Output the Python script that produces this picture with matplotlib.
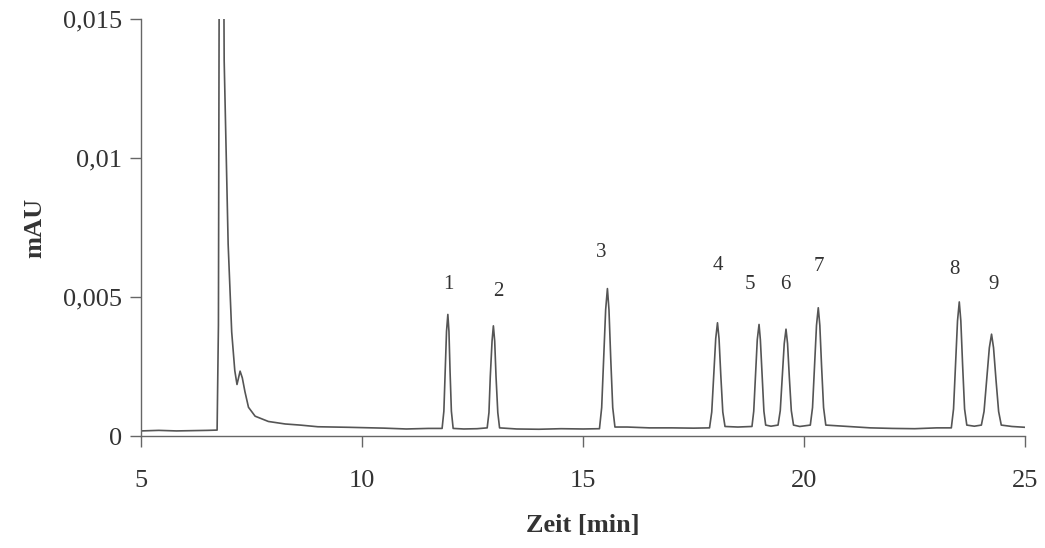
# Chromatogram (HPLC trace) redrawn from a scanned figure.
import matplotlib
matplotlib.use('Agg')
import matplotlib.pyplot as plt
from matplotlib.ticker import FixedLocator, FixedFormatter

# trace points (time in min, signal in mAU)
time = [5.0, 5.4, 5.8, 6.2, 6.5, 6.72, 6.75, 6.80, 6.88, 6.97, 7.05, 7.12, 7.17,
        7.24, 7.29, 7.35, 7.43, 7.58, 7.88, 8.26, 8.6, 9.0, 9.7, 10.5, 11.0, 11.5,
        11.81, 11.85, 11.88, 11.91, 11.94, 11.965, 11.99, 12.02, 12.06, 12.3, 12.6,
        12.83, 12.87, 12.90, 12.94, 12.97, 13.00, 13.03, 13.07, 13.11,
        13.5, 14.0, 14.5, 15.0,
        15.37, 15.42, 15.465, 15.51, 15.55, 15.585, 15.625, 15.67, 15.72,
        16.0, 16.5, 17.0, 17.5,
        17.86, 17.91, 17.955, 18.00, 18.04, 18.075, 18.115, 18.16, 18.21, 18.5,
        18.82, 18.86, 18.90, 18.94, 18.98, 19.01, 19.05, 19.09, 19.13, 19.25,
        19.41, 19.46, 19.505, 19.55, 19.59, 19.625, 19.665, 19.71, 19.76, 19.9,
        20.14, 20.19, 20.235, 20.28, 20.32, 20.355, 20.395, 20.44, 20.49,
        21.0, 21.5, 22.0, 22.5, 23.0,
        23.33, 23.38, 23.425, 23.47, 23.51, 23.545, 23.585, 23.63, 23.68, 23.85,
        24.01, 24.07, 24.13, 24.19, 24.24, 24.285, 24.34, 24.40, 24.46, 24.7, 25.0]
signal = [0.00019, 0.00021, 0.00019, 0.0002, 0.00021, 0.00022, 0.004, 0.04, 0.0135, 0.0069,
          0.00375, 0.00236, 0.00186, 0.00234, 0.0021, 0.0016, 0.00104, 0.00072, 0.00053,
          0.00044, 0.0004, 0.00034, 0.00032, 0.00029, 0.00026, 0.00028,
          0.00028, 0.0009, 0.00233, 0.00377, 0.00438, 0.00377, 0.00233, 0.0009, 0.00028,
          0.00026, 0.00027,
          0.0003, 0.00085, 0.00214, 0.00342, 0.00397, 0.00342, 0.00214, 0.00085, 0.0003,
          0.00026, 0.00025, 0.00027, 0.00026,
          0.00027, 0.00103, 0.00279, 0.00455, 0.00531, 0.00455, 0.00279, 0.00103, 0.00033,
          0.00033, 0.0003, 0.0003, 0.00029,
          0.0003, 0.00087, 0.00219, 0.00351, 0.00408, 0.00351, 0.00219, 0.00087, 0.00035,
          0.00033,
          0.00035, 0.0009, 0.00219, 0.00347, 0.00402, 0.00347, 0.00219, 0.0009, 0.0004,
          0.00036,
          0.0004, 0.00092, 0.00213, 0.00333, 0.00385, 0.00333, 0.00213, 0.00092, 0.0004,
          0.00035,
          0.0004, 0.00103, 0.00251, 0.00399, 0.00462, 0.00399, 0.00251, 0.00103, 0.0004,
          0.00035, 0.0003, 0.00028, 0.00027, 0.0003,
          0.0003, 0.00098, 0.00257, 0.00415, 0.00483, 0.00415, 0.00257, 0.00098, 0.0004,
          0.00036,
          0.0004, 0.00089, 0.00204, 0.00318, 0.00367, 0.00318, 0.00204, 0.00089, 0.0004,
          0.00035, 0.00032]

# peak numbers and where they are printed
peak_names = ['1', '2', '3', '4', '5', '6', '7', '8', '9']
label_x = [11.95, 13.08, 15.42, 18.05, 18.78, 19.58, 20.34, 23.40, 24.28]
label_y = [0.00546, 0.00522, 0.00662, 0.00615, 0.00546, 0.00546, 0.00609, 0.0060, 0.00546]

x_ticks = [5, 10, 15, 20, 25]
y_ticks = [0, 0.005, 0.01, 0.015]
y_tick_labels = ['0', '0,005', '0,01', '0,015']

plt.rcParams['font.family'] = ['Liberation Serif', 'DejaVu Serif']

fig = plt.figure(figsize=(10.45, 5.48), dpi=100)
ax = fig.add_axes([0.135, 0.204, 0.846, 0.761])

ax.plot(time, signal, color='#555555', lw=1.2)

for name, lx, ly in zip(peak_names, label_x, label_y):
    ax.text(lx, ly, name, ha='center', va='center', fontsize=15, color='#333333')

ax.set_xlim(5, 25)
ax.set_ylim(0, 0.015)
ax.xaxis.set_major_locator(FixedLocator(x_ticks))
ax.yaxis.set_major_locator(FixedLocator(y_ticks))
ax.yaxis.set_major_formatter(FixedFormatter(y_tick_labels))

for side in ['top', 'right']:
    ax.spines[side].set_visible(False)
for side in ['left', 'bottom']:
    ax.spines[side].set_color('#666666')
    ax.spines[side].set_linewidth(1.0)

ax.tick_params(axis='both', direction='out', length=8, width=1.0, color='#666666',
               labelsize=19, labelcolor='#333333')
ax.tick_params(axis='x', pad=16)
ax.tick_params(axis='y', pad=6)

ax.set_xlabel('Zeit [min]', fontsize=19, fontweight='bold', color='#333333', labelpad=16)
ax.set_ylabel('mAU', fontsize=19, fontweight='bold', color='#333333', labelpad=12)

fig.savefig('out.png', dpi=100)
